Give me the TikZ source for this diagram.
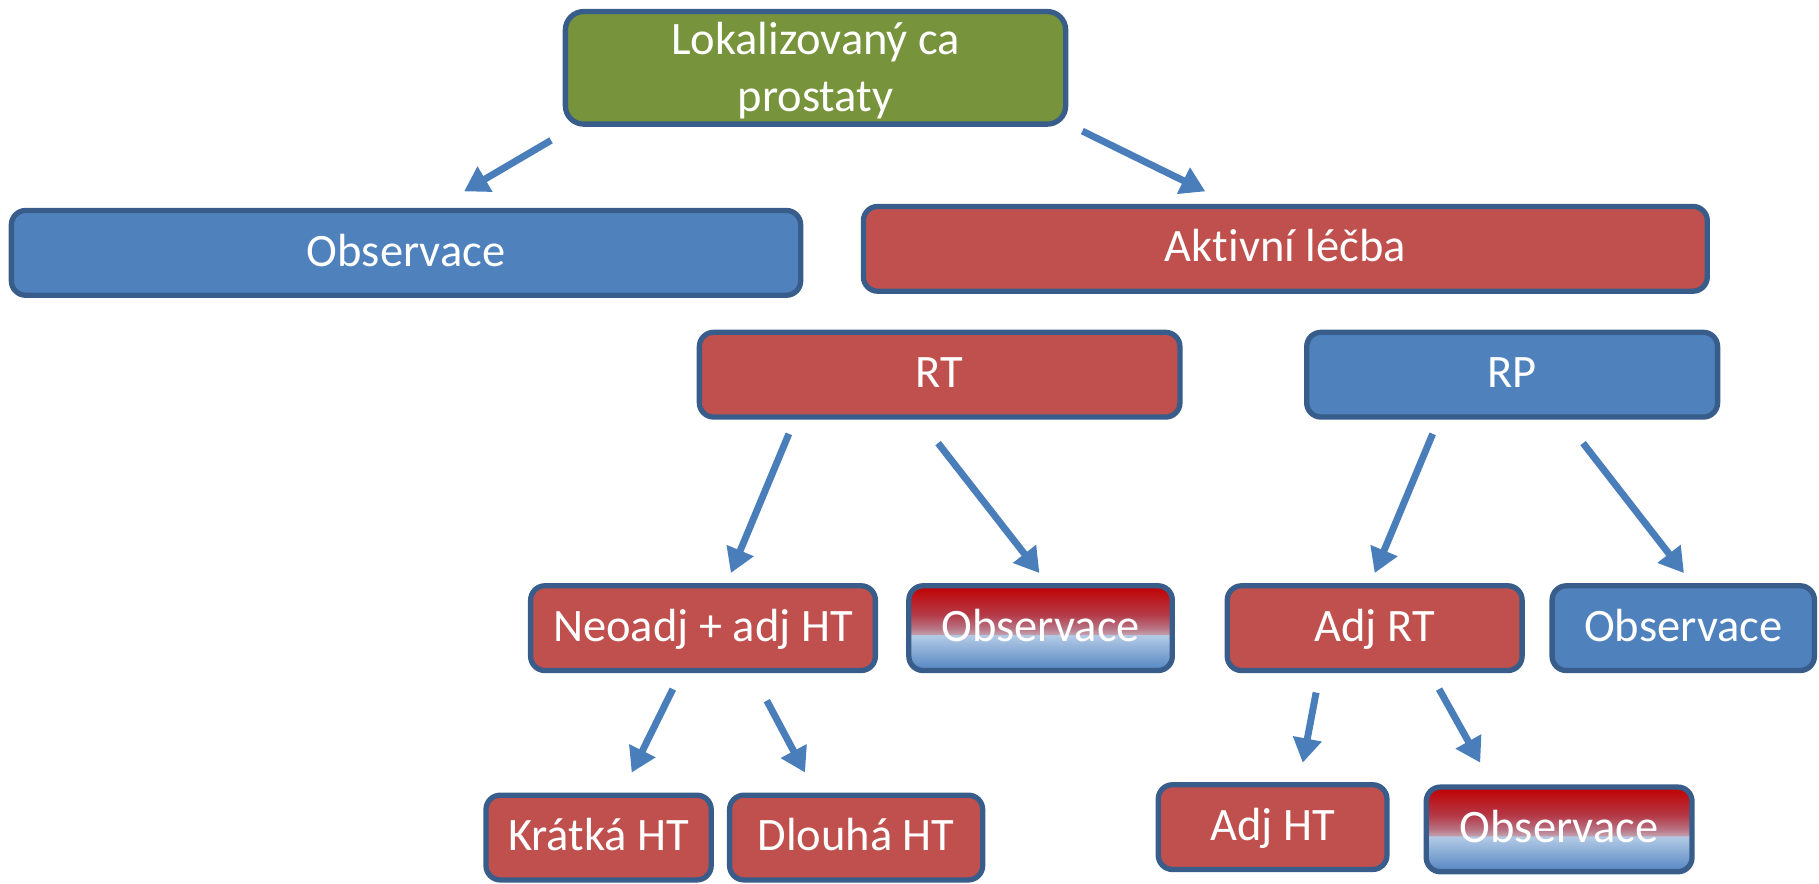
\documentclass[tikz,border=0pt]{standalone}
\usepackage{fontspec}
\setmainfont{Carlito}[Ligatures=NoCommon]
\usepackage{tikz}
\usetikzlibrary{arrows.meta}

\definecolor{boxGreen}{HTML}{77933C}
\definecolor{boxRed}{HTML}{C0504D}
\definecolor{boxBlue}{HTML}{4F81BD}
\definecolor{boxLine}{HTML}{385D8A}
\definecolor{arrowBlue}{HTML}{4A7EBB}
\definecolor{gradRedTop}{HTML}{C00000}
\definecolor{gradRedHalf}{HTML}{B43A48}
\definecolor{gradRedLow}{HTML}{B87484}
\definecolor{gradRedMid}{HTML}{C29EAC}
\definecolor{gradBlueMid}{HTML}{B4CBE6}
\definecolor{gradBlueLow}{HTML}{5385C1}
\pgfdeclareverticalshading{obsShade}{100bp}{color(0bp)=(gradBlueLow); color(25bp)=(gradBlueLow); color(46bp)=(gradBlueMid); color(46.3bp)=(gradRedMid); color(50bp)=(gradRedLow); color(58bp)=(gradRedHalf); color(75bp)=(gradRedTop); color(100bp)=(gradRedTop)}

\begin{document}
\begin{tikzpicture}[x=0.01cm,y=-0.01cm]
    \tikzstyle{every node} = [font=\fontsize{11.4pt}{13.9pt}\selectfont, text=white]
    \tikzstyle{block} = [draw=boxLine, line width=1.3pt, rectangle, rounded corners=3.5pt, minimum height=0.73cm, text height=0.644em, text depth=0pt, align=center, inner sep=0pt]
    \tikzstyle{redBlock} = [block, fill=boxRed]
    \tikzstyle{blueBlock} = [block, fill=boxBlue]
    \tikzstyle{mixedBlock} = [block, shade, shading=obsShade]
    \tikzstyle{arrow} = [draw=arrowBlue, line width=1.7pt, -{Triangle[length=0.21cm,width=0.24cm]}]
    \useasboundingbox (0,0) rectangle (1568,762);

    % place nodes
    \node[block, fill=boxGreen, rounded corners=4.5pt, minimum width=4.31cm, minimum height=0.97cm, text height=21.2pt](prostateCa) at (703,58.5){Lokalizovaný ca\\prostaty};
    \node[blueBlock, minimum width=6.80cm](observace) at (350,218){Observace};
    \node[redBlock, minimum width=7.27cm](aktivniLecba) at (1108,214.5){Aktivní léčba};
    \node[redBlock, minimum width=4.14cm](rt) at (810,323){RT};
    \node[blueBlock, minimum width=3.54cm](rp) at (1303.5,323){RP};
    \node[redBlock, minimum width=2.97cm](neoadjHT) at (606,541.5){Neoadj + adj HT};
    \node[mixedBlock, minimum width=2.27cm](observaceRT) at (897,541.5){Observace};
    \node[redBlock, minimum width=2.54cm](adjRT) at (1185,541.5){Adj RT};
    \node[blueBlock, minimum width=2.26cm](observaceRP) at (1451,541.5){Observace};
    \node[redBlock, minimum width=1.94cm](kratkaHT) at (516,722){Krátká HT};
    \node[redBlock, minimum width=2.18cm](dlouhaHT) at (738,722){Dlouhá HT};
    \node[redBlock, minimum width=1.97cm](adjHT) at (1097,713){Adj HT};
    \node[mixedBlock, minimum width=2.29cm](observaceAdj) at (1344,715){Observace};

    % arrow ends
    \coordinate (prostateCaL) at (475,121);   \coordinate (observaceIn) at (400,165);
    \coordinate (prostateCaR) at (933,113);   \coordinate (aktivniIn) at (1039,165);
    \coordinate (rtL) at (680,374);           \coordinate (neoadjIn) at (630,494);
    \coordinate (rtR) at (808.6,382);         \coordinate (observaceRTIn) at (896,494);
    \coordinate (rpL) at (1235,374);          \coordinate (adjRTIn) at (1185,494);
    \coordinate (rpR) at (1364.6,382);        \coordinate (observaceRPIn) at (1451.6,494);
    \coordinate (neoadjL) at (580,594);       \coordinate (kratkaIn) at (544.5,666);
    \coordinate (neoadjR) at (661,604);       \coordinate (dlouhaIn) at (694,666);
    \coordinate (adjRTL) at (1134.5,597);     \coordinate (adjHTIn) at (1123,657.5);
    \coordinate (adjRTR) at (1240.5,594);     \coordinate (observaceAdjIn) at (1276,657.5);

    % Connections
    \draw[arrow] (prostateCaL)--(observaceIn);
    \draw[arrow] (prostateCaR)--(aktivniIn);
    \draw[arrow] (rtL)--(neoadjIn);
    \draw[arrow] (rtR)--(observaceRTIn);
    \draw[arrow] (rpL)--(adjRTIn);
    \draw[arrow] (rpR)--(observaceRPIn);
    \draw[arrow] (neoadjL)--(kratkaIn);
    \draw[arrow] (neoadjR)--(dlouhaIn);
    \draw[arrow] (adjRTL)--(adjHTIn);
    \draw[arrow] (adjRTR)--(observaceAdjIn);

\end{tikzpicture}
\end{document}
